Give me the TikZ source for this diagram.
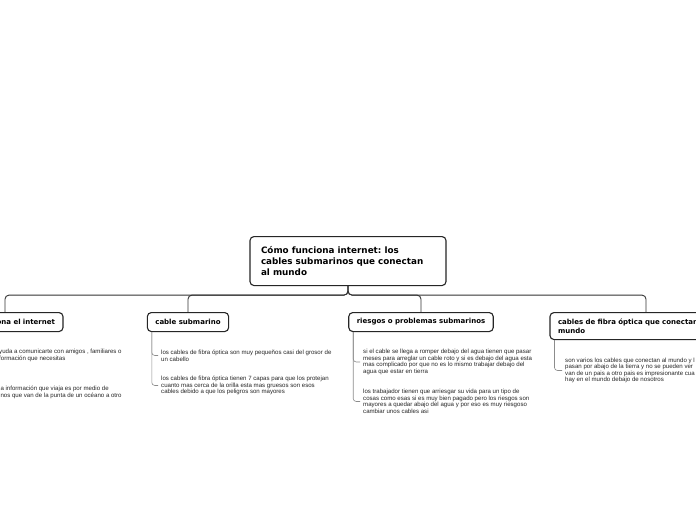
\documentclass[tikz,border=0pt]{standalone}
\usepackage{fontspec}
\setmainfont{DejaVu Sans}
\newfontfamily\smallfont{Liberation Sans}
\frenchspacing
\begin{document}
\begin{tikzpicture}[x=1pt,y=-1pt,
  box/.style={draw=black!85,line width=1.1pt,rounded corners=4pt,fill=white,font=\bfseries\fontsize{7}{9}\selectfont,inner xsep=8pt,inner ysep=0pt,minimum height=19pt},
  conn/.style={draw=black!80,line width=0.9pt,rounded corners=4pt},
  sub/.style={draw=black!45,line width=0.6pt,rounded corners=3pt},
  item/.style={font=\smallfont\fontsize{6.1}{6.6}\selectfont,text=black!85,inner sep=0pt,align=left,anchor=west}]
\useasboundingbox (0,0) rectangle (696,520);
\clip (0,0) rectangle (696,520);
\fill[white] (0,0) rectangle (696,520);
% title
\node[box,anchor=north,font=\bfseries\fontsize{8.8}{11}\selectfont,minimum width=196pt,minimum height=49pt,align=left,inner xsep=0pt] (t) at (348,236) {\makebox[174pt][l]{Cómo funciona internet: los}\\cables submarinos que conectan\\al mundo};
% children
\node[box,anchor=north,text width=100pt,align=right] (c1) at (5,312) {ona el internet};
\node[box,anchor=north] (c2) at (188,312) {cable submarino};
\node[box,anchor=north] (c3) at (421,312) {riesgos o problemas submarinos};
\node[box,anchor=north,text width=176pt,align=left,minimum height=27pt] (c4) at (646,312) {cables de fibra óptica que conectan\\mundo};
% connectors
\draw[conn] (t.south) -- ++(0,9) -| (c1.north);
\draw[conn] (t.south) -- ++(0,9) -| (c2.north);
\draw[conn] (t.south) -- ++(0,9) -| (c3.north);
\draw[conn] (t.south) -- ++(0,9) -| (c4.north);
% items
\node[item] (s11) at (-1,355.5) {yuda a comunicarte con amigos , familiares o\\formación que necesitas};
\node[item] (s12) at (-1,392.5) {la información que viaja es por medio de\\inos que van de la punta de un océano a otro};
\node[item] (s21) at (161,355.5) {los cables de fibra óptica son muy pequeños casi del grosor de\\un cabello};
\node[item] (s22) at (161,385.5) {los cables de fibra óptica tienen 7 capas para que los protejan\\cuanto mas cerca de la orilla esta mas gruesos son esos\\cables debido a que los peligros son mayores};
\node[item] (s31) at (363,362) {si el cable se llega a romper debajo del agua tienen que pasar\\meses para arreglar un cable roto y si es debajo del agua esta\\mas complicado por que no es lo mismo trabajar debajo del\\agua que estar en tierra};
\node[item] (s32) at (363,401.5) {los trabajador tienen que arriesgar su vida para un tipo de\\cosas como esas si es muy bien pagado pero los riesgos son\\mayores a quedar abajo del agua y por eso es muy riesgoso\\cambiar unos cables asi};
\node[item] (s41) at (565,370.5) {son varios los cables que conectan al mundo y l\\pasan por abajo de la tierra y no se pueden ver\\van de un pais a otro pais es impresionante cua\\hay en el mundo debajo de nosotros};
% item connectors
\draw[sub] ([xshift=5pt]c1.south west) |- ([xshift=-3pt]s11.west);
\draw[sub] ([xshift=5pt]c1.south west) |- ([xshift=-3pt]s12.west);
\draw[sub] ([xshift=5pt]c2.south west) |- ([xshift=-3pt]s21.west);
\draw[sub] ([xshift=5pt]c2.south west) |- ([xshift=-3pt]s22.west);
\draw[sub] ([xshift=5pt]c3.south west) |- ([xshift=-3pt]s31.west);
\draw[sub] ([xshift=5pt]c3.south west) |- ([xshift=-3pt]s32.west);
\draw[sub] ([xshift=5pt]c4.south west) |- ([xshift=-3pt]s41.west);
\end{tikzpicture}
\end{document}
